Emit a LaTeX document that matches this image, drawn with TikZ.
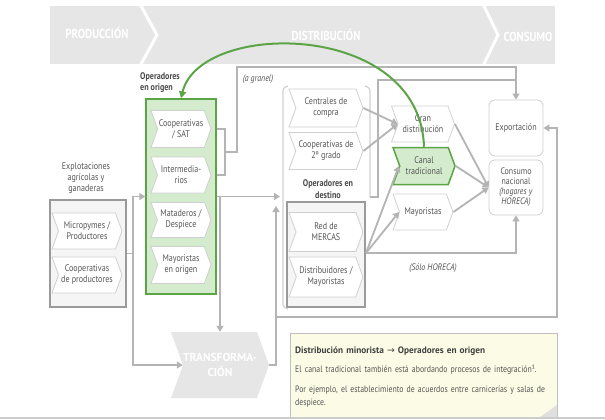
\documentclass[tikz,border=0pt]{standalone}
\usepackage{fontspec}
\setmainfont{PT Sans}[FakeStretch=0.84]
\newfontfamily\widef{PT Sans}
\newfontfamily\symf{DejaVu Sans}
\usetikzlibrary{shapes.symbols,arrows.meta,calc}
\definecolor{txt}{HTML}{555555}
\definecolor{conn}{HTML}{B4B4B4}
\definecolor{chevline}{HTML}{D0D0D0}
\definecolor{band}{HTML}{E6E6E6}
\definecolor{gfill}{HTML}{D4EBCD}
\definecolor{gline}{HTML}{5BA547}
\definecolor{notefill}{HTML}{FCFCE6}
\definecolor{boxline}{HTML}{9A9A9A}
\begin{document}
\begin{tikzpicture}[x=1pt,y=-1pt, font=\fontsize{9.6}{11}\selectfont, text=txt,
  chev/.style={signal, signal to=east, signal from=west, signal pointer angle=140,
    draw=chevline, line width=0.8pt, fill=white, inner sep=0pt, align=center},
  conn/.style={draw=conn, line width=1.8pt},
  arr/.style={conn, -{Triangle[length=6pt,width=7pt]}},
  paren/.style={draw=chevline, line width=1.2pt},
  lbl/.style={inner sep=0pt, align=center},
  bandtxt/.style={text=white, font=\fontsize{13}{14}\selectfont\bfseries, inner sep=0pt}
]
\useasboundingbox (0,0) rectangle (605,420);
\fill[white] (0,0) rectangle (605,420);
% top band
\fill[band] (50,6) rectangle (555,64);
\draw[white, line width=3pt] (140,4) -- (157,35) -- (140,66);
\draw[white, line width=3pt] (483,4) -- (498,35) -- (483,66);
\node[bandtxt] (prod) at (97,33) {PRODUCCIÓN};
\node[bandtxt] (dist) at (326,35) {DISTRIBUCIÓN};
\node[bandtxt] (cons0) at (528,37) {CONSUMO};

% boxes
\node[draw=boxline, line width=1.2pt, fill=black!4, minimum width=76, minimum height=107, inner sep=0pt] (expl) at (88,253.5) {};
\node[draw=gline, line width=1.3pt, fill=gfill, minimum width=70, minimum height=195, inner sep=0pt] (green) at (181,196.5) {};
\node[draw=boxline, line width=1.2pt, fill=black!4, minimum width=78, minimum height=105, inner sep=0pt] (dest) at (326,254.5) {};
\node[draw=chevline, line width=0.8pt, rounded corners=6pt, fill=white, minimum width=54, minimum height=56, inner sep=0pt] (exp) at (516,128) {Exportación};
\node[draw=chevline, line width=0.8pt, rounded corners=6pt, fill=white, minimum width=54, minimum height=55, inner sep=0pt, align=center, font=\fontsize{9.4}{10}\selectfont] (cons) at (516,187.5) {Consumo\\nacional\\\textit{(hogares y}\\\textit{HORECA)}};

% parens
\draw[paren] (288,86) .. controls (283,88) .. (283,95) -- (283,300) .. controls (283,307) .. (288,309);
\draw[paren] (365,86) .. controls (370,88) .. (370,95) -- (370,197);

% chevrons
\node[chev, minimum width=70, minimum height=36] (micro) at (87,231) {Micropymes /\\Productores};
\node[chev, minimum width=70, minimum height=36] (coopp) at (87,275) {Cooperativas\\de productores};
\node[chev, minimum width=60, minimum height=37] (sat) at (181,129) {Cooperativas\\/ SAT};
\node[chev, minimum width=60, minimum height=36] (inter) at (181,175) {Intermedia-\\rios};
\node[chev, minimum width=60, minimum height=35] (mat) at (181,220) {Mataderos /\\Despiece};
\node[chev, minimum width=60, minimum height=37] (mayo) at (181,265) {Mayoristas\\en origen};
\node[chev, minimum width=74, minimum height=38] (cent) at (326,108) {Centrales de\\compra};
\node[chev, minimum width=74, minimum height=37] (coop2) at (326,151) {Cooperativas de\\2º grado};
\node[chev, minimum width=74, minimum height=39] (red) at (326,232) {Red de\\MERCAS};
\node[chev, minimum width=74, minimum height=40] (distr) at (326,277) {Distribuidores /\\Mayoristas};
\node[chev, minimum width=63, minimum height=36] (gran) at (423,124) {Gran\\distribución};
\node[chev, minimum width=62, minimum height=37, fill=gfill, draw=gline, line width=1.5pt] (canal) at (424,166) {Canal\\tradicional};
\node[chev, minimum width=60, minimum height=36] (may) at (423,212) {Mayoristas};
\node[signal, signal to=east, signal from=west, signal pointer angle=140, fill=band, inner sep=0pt,
  minimum width=94, minimum height=66, align=center, text=white, font=\widef\fontsize{11.5}{15}\selectfont\bfseries] (transf) at (220,365) {TRANSFORMA-\\CIÓN};

% labels
\node[lbl, anchor=west, align=left, font=\fontsize{9.6}{11}\selectfont\bfseries, text=black!70] (opo) at (140,83) {Operadores\\en origen};
\node[lbl, font=\fontsize{9.4}{10}\selectfont\itshape] (gran0) at (258,79) {(a granel)};
\node[lbl, font=\fontsize{9.6}{11.5}\selectfont\bfseries, text=black!70] (opd) at (328,189) {Operadores en\\destino};
\node[lbl, font=\fontsize{9.4}{10}\selectfont\itshape] (solo) at (433,268) {(Sólo HORECA)};
\node[lbl] (explt) at (86,178) {Explotaciones\\agrícolas y\\ganaderas};

% connectors
\coordinate (jL) at (133,253.5);
\draw[arr] (expl.east) -- (jL) |- (green.west);
\draw[arr] (jL) |- (transf.west);
\coordinate (dIn) at (280,196.5);
\draw[arr] (green.east) -- (dIn);
\draw[arr] (green.east -| transf.north) -- (transf.north);
\coordinate (tU) at (276,206);
\draw[arr] (transf.east) -| (tU);
\coordinate (b1) at (276,317);
\coordinate (b2) at (557,317);
\draw[arr] (b1) -- (b2) |- (exp.east);
\coordinate (br) at (225,152);
\draw[conn] (green.east |- sat.east) -| (br) |- (green.east |- inter.east);
\coordinate (g1) at (237,152);
\coordinate (g2) at (237,67);
\draw[arr] (br) -- (g1) -- (g2) -| (exp.north);
\coordinate (p1) at (370,197);
\coordinate (p2) at (378,197);
\coordinate (p3) at (378,80);
\draw[conn] (p1) -- (p2) -- (p3) -- (p3 -| exp.north);
\draw[arr] (cent.east) -- (gran.west);
\draw[arr] (coop2.east) -- (gran.west);
\coordinate (J) at (366,253);
\draw[arr] (J) -- (canal.west);
\draw[arr] (J) -- (may.west);
\draw[arr] (J) -| (cons.south);
\draw[arr] (gran.east) -- (cons.west);
\draw[arr] (canal.east) -- (cons.west);
\draw[arr] (may.east) -- (cons.west);

% green arc
\draw[draw=gline, line width=2pt, -{Triangle[length=7pt,width=7pt]}] (canal.north) .. controls (420,20) and (200,20) .. (green.north);

% note
\node[draw=black!25, fill=notefill, line width=0.8pt, minimum width=267, minimum height=84, inner sep=0pt] (note) at (423.5,375) {};
\fill[black!12] (540,417) -- (557,405) -- (557,417) -- cycle;
\node[anchor=north west, inner sep=0pt, align=left, text width=258, font=\fontsize{9.3}{13}\selectfont] (notet) at (295,347)
 {{\widef\bfseries\color{black!75}Distribución minorista {\symf\mdseries →} Operadores en origen}\\[6pt]
  El canal tradicional también está abordando procesos de integración¹.\\[7pt]
  Por ejemplo, el establecimiento de acuerdos entre carnicerías y salas de despiece.};
\draw[black!20, line width=2pt] (0,418) -- (605,418);
\end{tikzpicture}
\end{document}
